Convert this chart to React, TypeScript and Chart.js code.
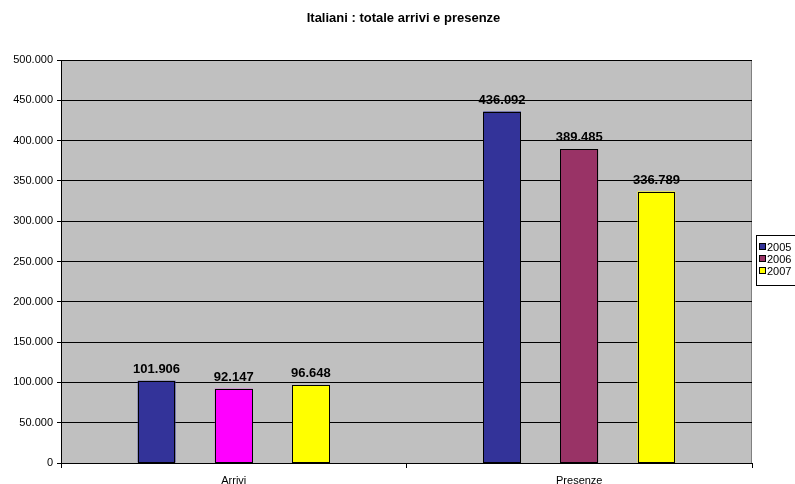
import React, { useEffect, useRef } from "react";
import { Chart, registerables } from "chart.js";

Chart.register(...registerables);

const TITLE = "Italiani : totale arrivi e presenze";
const categories = ["Arrivi", "Presenze"];
const seriesNames = ["2005", "2006", "2007"];
const values2005 = [101906, 436092];
const values2006 = [92147, 389485];
const values2007 = [96648, 336789];
const colors2005 = ["#333399", "#333399"];
const colors2006 = ["#FF00FF", "#993366"];
const colors2007 = ["#FFFF00", "#FFFF00"];
const legendColors = ["#333399", "#993366", "#FFFF00"];
const yMin = 0;
const yMax = 500000;
const yStep = 50000;

const fmt = (v: number) => String(Math.round(v)).replace(/\B(?=(\d{3})+(?!\d))/g, ".");
const FONT = "'Liberation Sans', Arial, sans-serif";

const plotPlugin = {
  id: "plotDecor",
  beforeDraw(chart: any) {
    const { ctx, chartArea: a } = chart;
    ctx.save();
    ctx.fillStyle = "#C0C0C0";
    ctx.fillRect(a.left, a.top, a.right - a.left, a.bottom - a.top);
    ctx.strokeStyle = "#808080";
    ctx.lineWidth = 1;
    ctx.strokeRect(a.left + 0.5, a.top + 0.5, a.right - a.left - 1, a.bottom - a.top);
    ctx.restore();
  },
  afterDatasetsDraw(chart: any) {
    const { ctx } = chart;
    ctx.save();
    ctx.strokeStyle = "#000";
    ctx.lineWidth = 1;
    chart.data.datasets.forEach((_ds: any, i: number) => {
      const meta = chart.getDatasetMeta(i);
      meta.data.forEach((bar: any) => {
        const l = Math.round(bar.x - bar.width / 2);
        const r = Math.round(bar.x + bar.width / 2);
        const t = Math.round(bar.y);
        const b = Math.round(bar.base);
        ctx.strokeRect(l + 0.5, t + 0.5, r - l - 1, b - t - 1);
      });
    });
    ctx.restore();
  },
  afterDraw(chart: any) {
    const { ctx, chartArea: a } = chart;
    ctx.save();
    // title
    ctx.fillStyle = "#000";
    ctx.font = `bold 13px ${FONT}`;
    ctx.textAlign = "center";
    ctx.textBaseline = "middle";
    ctx.fillText(TITLE, chart.width / 2 + 6, 18);
    // data labels
    ctx.font = `bold 13px ${FONT}`;
    ctx.textBaseline = "bottom";
    chart.data.datasets.forEach((ds: any, i: number) => {
      const meta = chart.getDatasetMeta(i);
      meta.data.forEach((bar: any, j: number) => {
        ctx.fillText(fmt(ds.data[j]), bar.x, bar.y - 5);
      });
    });
    // legend
    const lx = a.right + 4;
    const lh = 50;
    const ly = Math.round((a.top + a.bottom) / 2 - lh / 2) - 2;
    ctx.fillStyle = "#FFFFFF";
    ctx.fillRect(lx, ly, 60, lh);
    ctx.strokeStyle = "#000";
    ctx.lineWidth = 1;
    ctx.strokeRect(lx + 0.5, ly + 0.5, 60, lh);
    ctx.font = `11px ${FONT}`;
    ctx.textAlign = "left";
    ctx.textBaseline = "middle";
    seriesNames.forEach((name, i) => {
      const cy = ly + 12 + i * 12;
      ctx.fillStyle = legendColors[i];
      ctx.fillRect(lx + 3, cy - 3, 6, 6);
      ctx.strokeStyle = "#000";
      ctx.strokeRect(lx + 3.5, cy - 3.5, 6, 6);
      ctx.fillStyle = "#000";
      ctx.fillText(name, lx + 11, cy + 1);
    });
    ctx.restore();
  },
};

export default function App() {
  const ref = useRef<HTMLCanvasElement>(null);
  useEffect(() => {
    if (!ref.current) return;
    const chart = new Chart(ref.current, {
      type: "bar",
      data: {
        labels: categories,
        datasets: [
          { label: seriesNames[0], data: values2005, backgroundColor: colors2005, borderWidth: 0 },
          { label: seriesNames[1], data: values2006, backgroundColor: colors2006, borderWidth: 0 },
          { label: seriesNames[2], data: values2007, backgroundColor: colors2007, borderWidth: 0 },
        ],
      },
      options: {
        responsive: false,
        animation: false,
        devicePixelRatio: 1,
        layout: { padding: { top: 60, right: 43, left: 0, bottom: 0 } },
        plugins: { legend: { display: false }, title: { display: false }, tooltip: { enabled: false } },
        datasets: { bar: { categoryPercentage: 0.67, barPercentage: 0.49 } },
        scales: {
          x: {
            offset: true,
            grid: { offset: true, drawOnChartArea: false, color: "#000", tickLength: 5 },
            border: { color: "#000", width: 1 },
            ticks: { color: "#000", font: { family: FONT, size: 11 }, padding: 6 },
            afterFit(s: any) { s.height = 21; },
          },
          y: {
            min: yMin,
            max: yMax,
            ticks: { stepSize: yStep, color: "#000", font: { family: FONT, size: 11 }, padding: 4, callback: (v: any) => fmt(Number(v)) },
            grid: { color: "#000", tickLength: 4 },
            border: { color: "#000", width: 1 },
            afterFit(s: any) { s.width = 61; },
          },
        },
      },
      plugins: [plotPlugin],
    });
    return () => chart.destroy();
  }, []);
  return (
    <div style={{ position: "fixed", left: 0, top: 0, width: 795, height: 484, background: "#fff" }}>
      <canvas ref={ref} width={795} height={484} style={{ display: "block" }} />
    </div>
  );
}
